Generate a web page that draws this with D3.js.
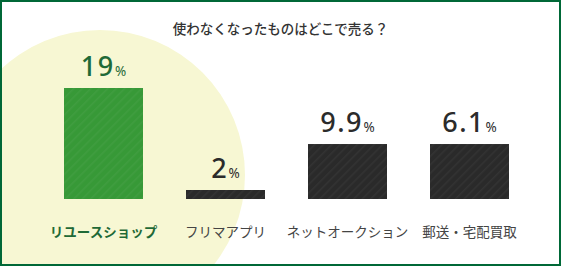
<!DOCTYPE html>
<html>
<head>
<meta charset="utf-8">
<script src="https://cdn.jsdelivr.net/npm/d3@7"></script>
<style>
  html, body { margin: 0; padding: 0; background: #fff; }
  svg { display: block; }
</style>
</head>
<body>
<svg id="chart" width="561" height="266"></svg>
<script>
// ---- data ----
const title = "使わなくなったものはどこで売る？";
const categories = ["リユースショップ", "フリマアプリ", "ネットオークション", "郵送・宅配買取"];
const values = [19, 2, 9.9, 6.1];          // printed values (%)
const valueLabels = ["19", "2", "9.9", "6.1"];
// bar lengths as drawn in the picture (in % units of the bar scale)
const barLengths = [19, 1.54, 9.41, 9.41];
const highlight = [true, false, false, false];

// ---- drawing ----
const W = 561, H = 266;
const svg = d3.select("#chart");
const font = "'Noto Sans CJK JP', 'Noto Sans', sans-serif";

const defs = svg.append("defs");
function stripe(id, base) {
  const p = defs.append("pattern").attr("id", id)
    .attr("patternUnits", "userSpaceOnUse").attr("width", 6).attr("height", 6)
    .attr("patternTransform", "rotate(45)");
  p.append("rect").attr("width", 6).attr("height", 6).attr("fill", base);
  p.append("rect").attr("width", 1.5).attr("height", 6).attr("fill", "rgba(255,255,255,0.045)");
}
stripe("stripeGreen", "#379937");
stripe("stripeDark", "#2a2a2a");

svg.append("rect").attr("width", W).attr("height", H).attr("fill", "#fff");
svg.append("circle").attr("cx", 100).attr("cy", 175).attr("r", 145).attr("fill", "#f7f7d3");

const x = d3.scaleBand().domain(categories).range([64, 509]).paddingInner(43 / 122).paddingOuter(0);
const y = d3.scaleLinear().domain([0, 19]).range([199, 88]);

svg.append("text").attr("x", 280.5).attr("y", 34).attr("text-anchor", "middle")
  .attr("font-family", font).attr("font-size", 13.5).attr("font-weight", 500)
  .attr("fill", "#333").text(title);

const g = svg.append("g");
categories.forEach((c, i) => {
  const bx = x(c), bw = x.bandwidth();
  const top = y(barLengths[i]);
  g.append("rect").attr("x", bx).attr("y", top).attr("width", bw).attr("height", y(0) - top)
    .attr("fill", highlight[i] ? "url(#stripeGreen)" : "url(#stripeDark)");

  const t = g.append("text").attr("x", bx + bw / 2).attr("y", top - 12)
    .attr("text-anchor", "middle").attr("font-family", "'Noto Sans', sans-serif")
    .attr("fill", highlight[i] ? "#1f6a37" : "#2b2b2b");
  t.append("tspan").attr("font-size", 27).attr("font-weight", 500).attr("letter-spacing", 1.5)
    .text(valueLabels[i]);
  t.append("tspan").attr("font-size", 13.5).attr("font-weight", 400).attr("dx", 0.5).text("%");

  g.append("text").attr("x", bx + bw / 2).attr("y", 237).attr("text-anchor", "middle")
    .attr("font-family", font).attr("font-size", 13.5)
    .attr("font-weight", highlight[i] ? 700 : 400)
    .attr("fill", highlight[i] ? "#1f6a37" : "#444").text(c);
});

svg.append("rect").attr("x", 1).attr("y", 1).attr("width", W - 2).attr("height", H - 2)
  .attr("fill", "none").attr("stroke", "#006837").attr("stroke-width", 2);
</script>
</body>
</html>
